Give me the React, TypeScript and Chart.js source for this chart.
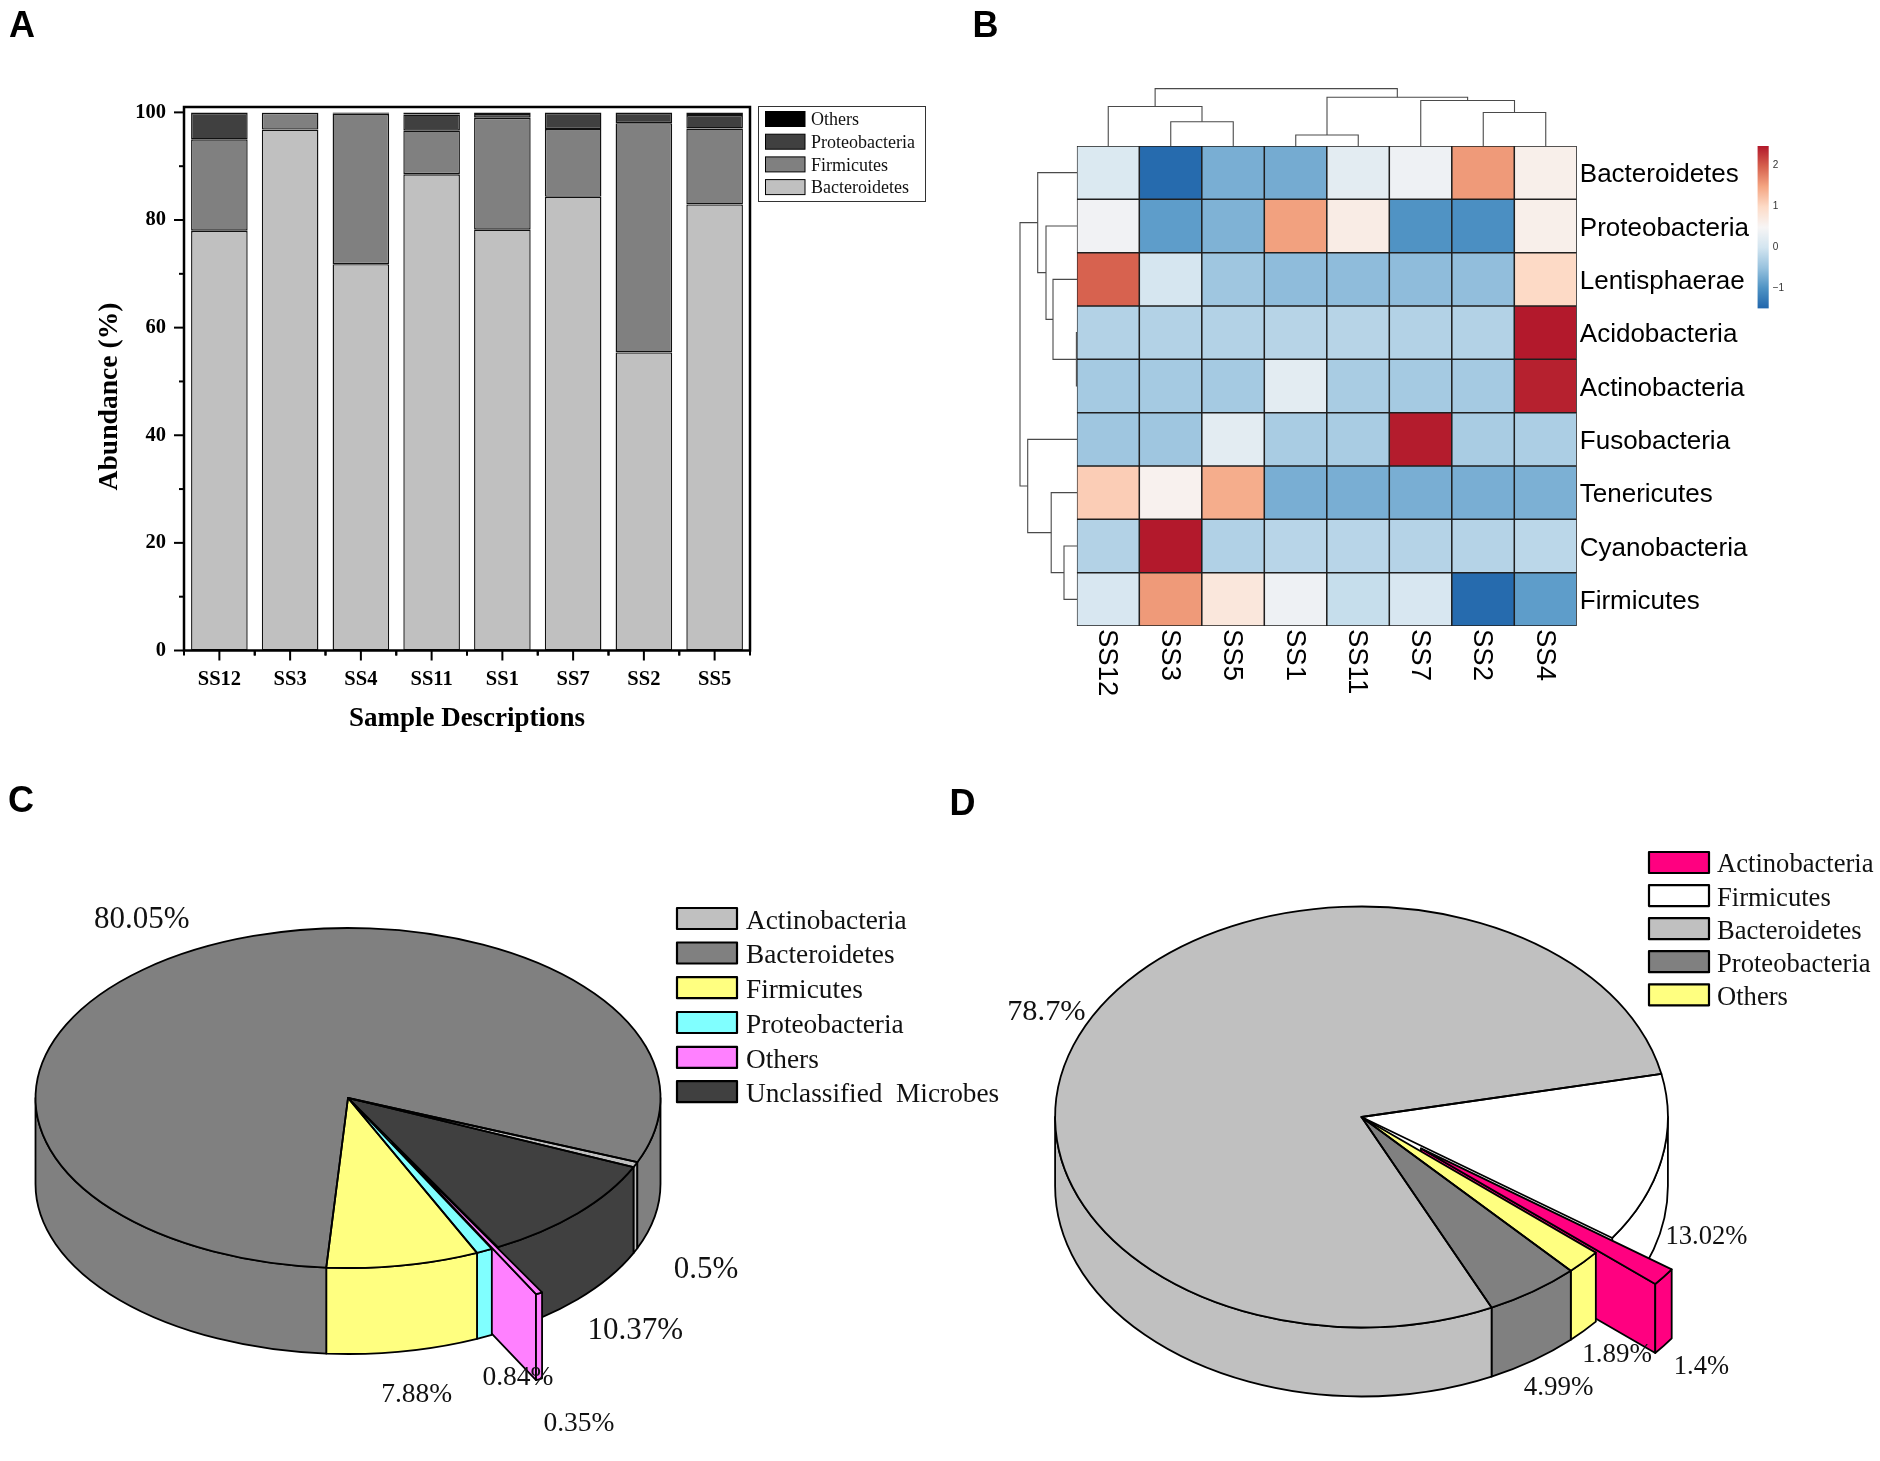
import React, { useEffect, useRef } from "react";
import { Chart, registerables } from "chart.js";

Chart.register(...registerables);

/* ---------- Panel A ---------- */
const sampleLabelsA = ["SS12", "SS3", "SS4", "SS11", "SS1", "SS7", "SS2", "SS5"];
const bacteroidetesA = [78, 96.8, 71.8, 88.5, 78.2, 84.3, 55.4, 82.9];
const firmicutesA = [17, 3.1, 27.9, 8.1, 20.8, 12.6, 42.6, 14.1];
const proteobacteriaA = [4.9, 0.05, 0.05, 3, 0.7, 3, 1.9, 2.5];
const othersA = [0.1, 0.05, 0.25, 0.4, 0.3, 0.1, 0.1, 0.5];
const legendLabelsA = ["Others", "Proteobacteria", "Firmicutes", "Bacteroidetes"];

/* ---------- Panel B ---------- */
const sampleLabelsB = ["SS12", "SS3", "SS5", "SS1", "SS11", "SS7", "SS2", "SS4"];
const phylaB = ["Bacteroidetes", "Proteobacteria", "Lentisphaerae", "Acidobacteria", "Actinobacteria", "Fusobacteria", "Tenericutes", "Cyanobacteria", "Firmicutes"];
const bacteroidetesB = [0.1, -1.45, -0.72, -0.75, 0.2, 0.35, 1.55, 0.6];
const proteobacteriaB = [0.4, -0.9, -0.68, 1.5, 0.65, -1.0, -1.05, 0.6];
const lentisphaeraeB = [1.95, 0.02, -0.45, -0.57, -0.57, -0.57, -0.55, 0.98];
const acidobacteriaB = [-0.28, -0.28, -0.28, -0.25, -0.25, -0.28, -0.28, 2.45];
const actinobacteriaB = [-0.4, -0.4, -0.4, 0.2, -0.37, -0.4, -0.4, 2.4];
const fusobacteriaB = [-0.45, -0.45, 0.2, -0.37, -0.37, 2.43, -0.37, -0.34];
const tenericutesB = [1.1, 0.55, 1.4, -0.72, -0.72, -0.72, -0.72, -0.7];
const cyanobacteriaB = [-0.28, 2.45, -0.3, -0.24, -0.24, -0.27, -0.27, -0.22];
const firmicutesB = [0.05, 1.55, 0.75, 0.35, -0.12, 0.05, -1.45, -0.9];
const colorBarMin = -1.5;
const colorBarMax = 2.46;
const colorBarTicks = [-1, 0, 1, 2];
const heatStops = ["#2166AC", "#4f93c4", "#98c2de", "#d3e5f0", "#F7F5F5", "#FDDBC7", "#F4A582", "#D6604D", "#B2182B"];
// [left node, right node, merge height]; nodes above the leaf count are earlier merges
const columnMerges = [[1, 2, 24.3], [0, 8, 39.5], [3, 4, 11], [6, 7, 33.5], [5, 11, 45.5], [10, 12, 48.7], [9, 13, 57.4]];
const rowMerges = [[3, 4, 0.6], [2, 9, 24], [1, 10, 31], [0, 11, 39.3], [7, 8, 13], [6, 13, 25.8], [5, 14, 49.3], [12, 15, 57]];

/* ---------- Panel C (clockwise slice order) ---------- */
const labelsC = ["Actinobacteria", "Unclassified  Microbes", "Others", "Proteobacteria", "Firmicutes", "Bacteroidetes"];
const valuesC = [0.5, 10.37, 0.35, 0.84, 7.88, 80.05];
const colorsC = ["#c0c0c0", "#404040", "#ff80ff", "#80ffff", "#ffff80", "#808080"];
const explodeC = [0, 0, 94, 0, 0, 0];
const legendOrderC = [0, 5, 4, 3, 2, 1];
const labelSpotsC = [[706, 1270, 31], [635.4, 1330.5, 31], [579, 1423.5, 27.5], [518, 1377.5, 27.5], [416.7, 1395, 27.5], [141.7, 920, 31]];

/* ---------- Panel D (clockwise slice order) ---------- */
const labelsD = ["Firmicutes", "Actinobacteria", "Others", "Proteobacteria", "Bacteroidetes"];
const valuesD = [13.02, 1.4, 1.89, 4.99, 78.7];
const colorsD = ["#ffffff", "#ff0080", "#ffff80", "#808080", "#c0c0c0"];
const explodeD = [0, 75, 0, 0, 0];
const legendOrderD = [1, 0, 4, 3, 2];
const labelSpotsD = [[1706.5, 1237, 26.6], [1701.4, 1367.5, 26.5], [1617, 1354.8, 27], [1558.7, 1388, 27], [1046.4, 1011.8, 30.4]];

const SERIF = '"Liberation Serif", "Times New Roman", serif';
const SANS = '"Liberation Sans", Arial, sans-serif';

function heatColor(v: number): string {
  const t = Math.max(0, Math.min(1, (v - colorBarMin) / (colorBarMax - colorBarMin))) * (heatStops.length - 1);
  const i = Math.min(Math.floor(t), heatStops.length - 2);
  const f = t - i;
  const ch = (hex: string, o: number) => parseInt(hex.slice(o, o + 2), 16);
  const mix = (o: number) => Math.round(ch(heatStops[i], o) * (1 - f) + ch(heatStops[i + 1], o) * f);
  return `rgb(${mix(1)},${mix(3)},${mix(5)})`;
}

function dendroSegments(merges: number[][], leafCount: number) {
  const pos: number[] = [];
  const hgt: number[] = [];
  for (let i = 0; i < leafCount; i++) {
    pos.push(i + 0.5);
    hgt.push(0);
  }
  return merges.map(([a, b, h]) => {
    const seg = [[pos[a], hgt[a]], [pos[a], h], [pos[b], h], [pos[b], hgt[b]]];
    pos.push((pos[a] + pos[b]) / 2);
    hgt.push(h);
    return seg;
  });
}

/* ---------- Plugins ---------- */
const panelAPlugin = {
  id: "panelA",
  afterDatasetsDraw(chart: any) {
    const { ctx, chartArea: a, scales } = chart;
    ctx.save();
    ctx.strokeStyle = "#000";
    ctx.lineWidth = 2.5;
    ctx.strokeRect(a.left, a.top, a.right - a.left, a.bottom - a.top);
    ctx.lineWidth = 2;
    for (const t of scales.y.ticks) {
      const y = scales.y.getPixelForValue(t.value);
      const len = t.value % 20 === 0 ? 10 : 5;
      ctx.beginPath();
      ctx.moveTo(a.left - len, y);
      ctx.lineTo(a.left, y);
      ctx.stroke();
    }
    const pitch = (a.right - a.left) / sampleLabelsA.length;
    sampleLabelsA.forEach((_, i) => {
      const x = scales.x.getPixelForValue(i);
      ctx.beginPath();
      ctx.moveTo(x, a.bottom);
      ctx.lineTo(x, a.bottom + 10);
      ctx.moveTo(x - pitch / 2, a.bottom);
      ctx.lineTo(x - pitch / 2, a.bottom + 5);
      ctx.moveTo(x + pitch / 2, a.bottom);
      ctx.lineTo(x + pitch / 2, a.bottom + 5);
      ctx.stroke();
    });
    // y-axis title
    ctx.save();
    ctx.translate(110, 396.5);
    ctx.rotate(-Math.PI / 2);
    ctx.font = `bold 27.6px ${SERIF}`;
    ctx.fillStyle = "#000";
    ctx.textAlign = "center";
    ctx.textBaseline = "middle";
    ctx.fillText("Abundance (%)", 0, 0);
    ctx.restore();
    // legend box
    ctx.lineWidth = 1;
    ctx.strokeStyle = "#333";
    ctx.fillStyle = "#fff";
    ctx.fillRect(758, 106, 167, 95);
    ctx.strokeRect(758.5, 106.5, 167, 95);
    const fills = ["#000000", "#404040", "#808080", "#c0c0c0"];
    ctx.textBaseline = "middle";
    ctx.textAlign = "left";
    ctx.font = `18px ${SERIF}`;
    legendLabelsA.forEach((lab, i) => {
      const y = 119 + i * 22.7;
      ctx.fillStyle = fills[i];
      ctx.fillRect(765, y - 7.5, 40, 15);
      ctx.strokeStyle = "#000";
      ctx.strokeRect(765.5, y - 7.5, 39.5, 15);
      ctx.fillStyle = "#111";
      ctx.fillText(lab, 811, y + 1.5);
    });
    ctx.restore();
  },
};

const heatLabelPlugin = {
  id: "heatLabels",
  afterDraw(chart: any) {
    const { ctx, scales, chartArea: a } = chart;
    ctx.save();
    ctx.font = `27.5px ${SANS}`;
    ctx.fillStyle = "#000";
    ctx.textAlign = "left";
    ctx.textBaseline = "middle";
    sampleLabelsB.forEach((lab, i) => {
      ctx.save();
      ctx.translate(scales.x.getPixelForValue(i) - 1, a.bottom + 3);
      ctx.rotate(Math.PI / 2);
      ctx.fillText(lab, 0, 0);
      ctx.restore();
    });
    ctx.restore();
  },
};

function makePie3d(opts: any) {
  const { k, thick, explode, spots, legendOrder, legendX, legendTextX, legendRows, swatchW, swatchH, legendFont, originX, originY } = opts;
  const center = (chart: any) => ({
    cx: (chart.chartArea.left + chart.chartArea.right) / 2,
    cy: (chart.chartArea.top + chart.chartArea.bottom) / 2,
  });
  // where a slice lands on screen once the flat pie is tilted by k
  const geom = (chart: any, arc: any) => {
    const { cy } = center(chart);
    return { x: arc.x, y: cy + (arc.y - cy) * k, r: arc.outerRadius };
  };
  return {
    id: "pie3d",
    afterDatasetsUpdate(chart: any) {
      // pull the exploded slices out along their own mid-angle
      chart.getDatasetMeta(0).data.forEach((arc: any, i: number) => {
        const mid = (arc.startAngle + arc.endAngle) / 2;
        arc.x += Math.cos(mid) * explode[i];
        arc.y += Math.sin(mid) * explode[i];
      });
    },
    beforeDatasetsDraw(chart: any) {
      const { ctx } = chart;
      const arcs = chart.getDatasetMeta(0).data;
      ctx.save();
      ctx.strokeStyle = "#000";
      ctx.lineWidth = 1.8;
      ctx.lineJoin = "round";
      arcs.forEach((arc: any, i: number) => {
        const g = geom(chart, arc);
        ctx.fillStyle = arc.options.backgroundColor;
        if (explode[i] > 0) {
          const px = g.x + Math.cos(arc.endAngle) * g.r;
          const py = g.y + Math.sin(arc.endAngle) * g.r * k;
          ctx.beginPath();
          ctx.moveTo(g.x, g.y);
          ctx.lineTo(px, py);
          ctx.lineTo(px, py + thick);
          ctx.lineTo(g.x, g.y + thick);
          ctx.closePath();
          ctx.fill();
          ctx.stroke();
        }
        for (const turn of [-1, 0, 1]) {
          const lo = turn * 2 * Math.PI;
          const a = Math.max(arc.startAngle, lo);
          const b = Math.min(arc.endAngle, lo + Math.PI);
          if (b <= a) continue;
          ctx.beginPath();
          ctx.ellipse(g.x, g.y, g.r, g.r * k, 0, a, b);
          ctx.ellipse(g.x, g.y + thick, g.r, g.r * k, 0, b, a, true);
          ctx.closePath();
          ctx.fill();
          ctx.stroke();
        }
      });
      ctx.restore();
      const { cx, cy } = center(chart);
      ctx.save();
      ctx.translate(cx, cy);
      ctx.scale(1, k);
      ctx.translate(-cx, -cy);
    },
    afterDatasetsDraw(chart: any) {
      const { ctx, data } = chart;
      ctx.restore();
      const arcs = chart.getDatasetMeta(0).data;
      ctx.save();
      ctx.strokeStyle = "#000";
      ctx.lineWidth = 1.8;
      ctx.lineJoin = "round";
      for (const arc of arcs) {
        const g = geom(chart, arc);
        ctx.beginPath();
        ctx.moveTo(g.x, g.y);
        ctx.ellipse(g.x, g.y, g.r, g.r * k, 0, arc.startAngle, arc.endAngle);
        ctx.closePath();
        ctx.stroke();
      }
      ctx.fillStyle = "#111";
      ctx.textAlign = "center";
      ctx.textBaseline = "middle";
      data.datasets[0].data.forEach((v: number, i: number) => {
        const [x, y, size] = spots[i];
        ctx.font = `${size}px ${SERIF}`;
        ctx.fillText(`${v}%`, x - originX, y - originY);
      });
      ctx.textAlign = "left";
      ctx.font = `${legendFont}px ${SERIF}`;
      legendOrder.forEach((idx: number, row: number) => {
        const y = legendRows[row] - originY;
        ctx.fillStyle = data.datasets[0].backgroundColor[idx];
        ctx.fillRect(legendX - originX, y - swatchH / 2, swatchW, swatchH);
        ctx.lineWidth = 2.2;
        ctx.strokeStyle = "#000";
        ctx.strokeRect(legendX - originX, y - swatchH / 2, swatchW, swatchH);
        ctx.fillStyle = "#111";
        ctx.fillText(data.labels[idx], legendTextX - originX, y + 3);
      });
      ctx.restore();
    },
  };
}

/* ---------- Chart configs ---------- */
function barDataset(label: string, data: number[], color: string) {
  return { label, data, backgroundColor: color, borderColor: "#111", borderWidth: 1.4, borderSkipped: false };
}

const configA = () => ({
  type: "bar",
  data: {
    labels: sampleLabelsA,
    datasets: [
      barDataset("Bacteroidetes", bacteroidetesA, "#c0c0c0"),
      barDataset("Firmicutes", firmicutesA, "#808080"),
      barDataset("Proteobacteria", proteobacteriaA, "#404040"),
      barDataset("Others", othersA, "#000000"),
    ],
  },
  options: {
    responsive: false,
    animation: false,
    layout: { autoPadding: false, padding: { left: 90, top: 107, right: 200, bottom: 13.5 } },
    datasets: { bar: { categoryPercentage: 1, barPercentage: 0.8 } },
    plugins: { legend: { display: false }, tooltip: { enabled: false } },
    scales: {
      x: {
        stacked: true,
        afterFit: (s: any) => { s.height = 86; },
        grid: { display: false },
        border: { display: false },
        ticks: { color: "#000", padding: 9, maxRotation: 0, font: { family: SERIF, size: 20.5, weight: "bold" } },
        title: { display: true, text: "Sample Descriptions", color: "#000", padding: { top: 0, bottom: 1 }, font: { family: SERIF, size: 27, weight: "bold" } },
      },
      y: {
        stacked: true,
        min: 0,
        max: 101,
        afterFit: (s: any) => { s.width = 94; },
        grid: { display: false },
        border: { display: false },
        ticks: {
          stepSize: 10,
          includeBounds: false,
          autoSkip: false,
          color: "#000",
          padding: 10,
          font: { family: SERIF, size: 20.5, weight: "bold" },
          callback: (v: number) => (v % 20 === 0 ? String(v) : ""),
        },
      },
    },
  },
  plugins: [panelAPlugin],
});

const heatRows = [bacteroidetesB, proteobacteriaB, lentisphaeraeB, acidobacteriaB, actinobacteriaB, fusobacteriaB, tenericutesB, cyanobacteriaB, firmicutesB];

const configB = () => ({
  type: "bar",
  data: {
    labels: sampleLabelsB,
    datasets: heatRows.map((row, i) => ({
      label: phylaB[i],
      data: row.map(() => 1),
      backgroundColor: row.map(heatColor),
      borderColor: "#1f1f1f",
      borderWidth: 1.1,
      borderSkipped: false,
    })),
  },
  options: {
    responsive: false,
    animation: false,
    layout: { autoPadding: false, padding: { left: 116.8, top: 146, right: 103.2, bottom: 0 } },
    datasets: { bar: { categoryPercentage: 1, barPercentage: 1 } },
    plugins: { legend: { display: false }, tooltip: { enabled: false } },
    scales: {
      x: {
        stacked: true,
        afterFit: (s: any) => { s.height = 94; },
        grid: { display: false },
        border: { display: false },
        ticks: { display: false },
      },
      y: {
        stacked: true,
        position: "right",
        reverse: true,
        min: 0,
        max: phylaB.length,
        afterFit: (s: any) => { s.width = 200; },
        afterBuildTicks: (s: any) => { s.ticks = phylaB.map((_, i) => ({ value: i + 0.545 })); },
        grid: { display: false, drawTicks: false },
        border: { display: false },
        ticks: {
          autoSkip: false,
          padding: 3,
          color: "#000",
          font: { family: SANS, size: 26 },
          callback: (v: number) => phylaB[Math.floor(v)],
        },
      },
    },
  },
  plugins: [heatLabelPlugin],
});

const configColorBar = () => ({
  type: "bar",
  data: {
    labels: ["z"],
    datasets: [{
      data: [[colorBarMin, colorBarMax]],
      backgroundColor: (c: any) => {
        const area = c.chart.chartArea;
        if (!area) return heatStops[0];
        const g = c.chart.ctx.createLinearGradient(0, area.bottom, 0, area.top);
        heatStops.forEach((col, i) => g.addColorStop(i / (heatStops.length - 1), col));
        return g;
      },
      borderWidth: 0,
      categoryPercentage: 1,
      barPercentage: 1,
    }],
  },
  options: {
    responsive: false,
    animation: false,
    layout: { autoPadding: false, padding: { left: 7.5, top: 11, right: 11.3, bottom: 11.5 } },
    plugins: { legend: { display: false }, tooltip: { enabled: false } },
    scales: {
      x: { display: false },
      y: {
        position: "right",
        min: colorBarMin,
        max: colorBarMax,
        afterFit: (s: any) => { s.width = 30; },
        afterBuildTicks: (s: any) => { s.ticks = colorBarTicks.map((value) => ({ value })); },
        grid: { display: false, drawTicks: false },
        border: { display: false },
        ticks: {
          padding: 4,
          color: "#333",
          font: { family: SANS, size: 10 },
          callback: (v: number) => (v < 0 ? `\u2212${Math.abs(v)}` : String(v)),
        },
      },
    },
  },
});

const dendroColor = "#4a4a4a";

const configDendroTop = () => ({
  type: "scatter",
  data: {
    datasets: dendroSegments(columnMerges, sampleLabelsB.length).map((seg) => ({
      data: seg.map(([x, y]) => ({ x, y })),
      showLine: true,
      borderColor: dendroColor,
      borderWidth: 1.1,
      pointRadius: 0,
      clip: false,
    })),
  },
  options: {
    responsive: false,
    animation: false,
    layout: { autoPadding: false, padding: 2 },
    plugins: { legend: { display: false }, tooltip: { enabled: false } },
    scales: {
      x: { display: false, min: 0, max: sampleLabelsB.length },
      y: { display: false, min: 0, max: 60 },
    },
  },
});

const configDendroLeft = () => ({
  type: "scatter",
  data: {
    datasets: dendroSegments(rowMerges, phylaB.length).map((seg) => ({
      data: seg.map(([p, h]) => ({ x: h, y: p })),
      showLine: true,
      borderColor: dendroColor,
      borderWidth: 1.1,
      pointRadius: 0,
      clip: false,
    })),
  },
  options: {
    responsive: false,
    animation: false,
    layout: { autoPadding: false, padding: 2 },
    plugins: { legend: { display: false }, tooltip: { enabled: false } },
    scales: {
      x: { display: false, min: 0, max: 60, reverse: true },
      y: { display: false, min: 0, max: phylaB.length, reverse: true },
    },
  },
});

function configPie(labels: string[], values: number[], colors: string[], rotation: number, radius: number, padding: any, plugin: any) {
  return {
    type: "pie",
    data: {
      labels,
      datasets: [{ data: values, backgroundColor: colors, borderWidth: 0, clip: false }],
    },
    options: {
      responsive: false,
      animation: false,
      rotation,
      radius,
      layout: { autoPadding: false, padding },
      plugins: { legend: { display: false }, tooltip: { enabled: false } },
    },
    plugins: [plugin],
  };
}

const configC = () =>
  configPie(labelsC, valuesC, colorsC, 112.2, 312.5, { left: 0, top: 0, right: 1010 - 696, bottom: 701 - 676 },
    makePie3d({
      k: 0.544, thick: 86, explode: explodeC, spots: labelSpotsC, legendOrder: legendOrderC,
      legendX: 677, legendTextX: 746, legendRows: [918.5, 953, 987.7, 1022.5, 1057.4, 1091.7],
      swatchW: 60, swatchH: 21, legendFont: 27.3, originX: 0, originY: 760,
    }));

const configD = () =>
  configPie(labelsD, valuesD, colorsD, 78.2, 306.4, { left: 0, top: 13, right: 940 - 843, bottom: 0 },
    makePie3d({
      k: 0.687, thick: 69, explode: explodeD, spots: labelSpotsD, legendOrder: legendOrderD,
      legendX: 1649, legendTextX: 1717, legendRows: [862.5, 895.6, 928.7, 961.7, 994.8],
      swatchW: 60, swatchH: 21, legendFont: 26.6, originX: 940, originY: 760,
    }));

/* ---------- Components ---------- */
function Panel({ make, left, top, width, height }: any) {
  const ref = useRef<HTMLCanvasElement | null>(null);
  useEffect(() => {
    const chart = new Chart(ref.current as any, make());
    return () => chart.destroy();
  }, []);
  return <canvas ref={ref} width={width} height={height} style={{ position: "absolute", left, top, width, height, display: "block" }} />;
}

function Letter({ text, left, top }: any) {
  return (
    <div style={{ position: "absolute", left, top, font: `bold 36px/1 ${SANS}`, color: "#000" }}>{text}</div>
  );
}

export default function App() {
  return (
    <div style={{ position: "absolute", left: 0, top: 0, width: 1880, height: 1461, background: "#fff", overflow: "hidden" }}>
      <Panel make={configA} left={0} top={0} width={950} height={750} />
      <Panel make={configB} left={960} top={0} width={920} height={720} />
      <Panel make={configColorBar} left={1750} top={135} width={60} height={185} />
      <Panel make={configDendroTop} left={1074.8} top={84} width={504} height={64} />
      <Panel make={configDendroLeft} left={1015} top={144} width={64} height={484} />
      <Panel make={configC} left={0} top={760} width={1010} height={701} />
      <Panel make={configD} left={940} top={760} width={940} height={701} />
      <Letter text="A" left={9} top={6.6} />
      <Letter text="B" left={972.5} top={6.6} />
      <Letter text="C" left={8} top={782} />
      <Letter text="D" left={949.5} top={785} />
    </div>
  );
}
